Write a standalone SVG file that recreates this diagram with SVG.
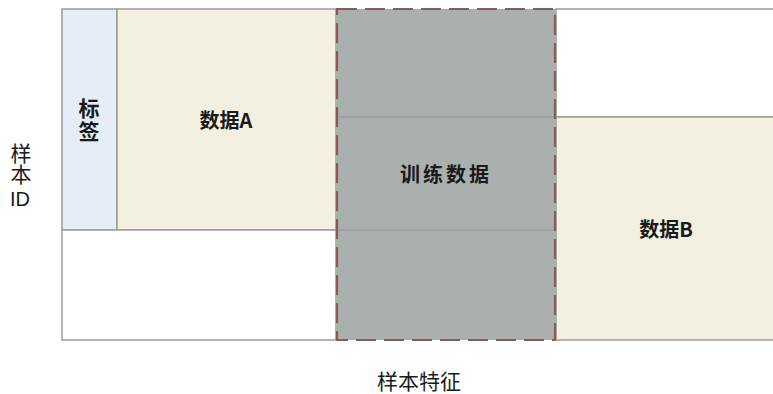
<svg xmlns="http://www.w3.org/2000/svg" width="773" height="394" viewBox="0 0 773 394">
<style>
.cell{stroke:#9a9c9c;stroke-width:1.5}
.blue{fill:#e5edf6}
.beige{fill:#f3f0e1}
.white{fill:#ffffff}
.gray{fill:#a9b0ae}
.lbl{font-family:"Noto Sans CJK SC","Noto Sans",sans-serif;font-weight:bold;font-size:20px;fill:#1a1a1a}
.axis{font-family:"Noto Sans CJK SC","Liberation Sans",sans-serif;font-size:21px;fill:#1a1a1a}
.vert{writing-mode:vertical-rl}
.dash{fill:none;stroke:#8a5a56;stroke-width:2.2;stroke-dasharray:20 8}
</style>
<rect width="773" height="394" fill="#ffffff"/>
<g id="label">
<rect class="cell blue" x="62" y="9" width="55" height="221"/>
<text class="lbl vert" x="89" y="98" style="font-size:21px" letter-spacing="2">标签</text>
</g>
<g id="dataA">
<rect class="cell beige" x="117" y="9" width="219" height="221"/>
<text class="lbl" x="226" y="128" text-anchor="middle">数据A</text>
</g>
<g id="emptyBL">
<rect class="cell white" x="62" y="230" width="274" height="110"/>
</g>
<g id="emptyTR">
<rect class="cell white" x="556" y="9" width="220" height="108"/>
</g>
<g id="dataB">
<rect class="cell beige" x="556" y="117" width="220" height="223"/>
<text class="lbl" x="666" y="237" text-anchor="middle">数据B</text>
</g>
<g id="training">
<rect class="gray" x="336" y="9" width="220" height="331"/>
<line x1="336" y1="117" x2="556" y2="117" stroke="#8f9694" stroke-width="1.2"/>
<line x1="336" y1="230" x2="556" y2="230" stroke="#8f9694" stroke-width="1.2"/>
<rect class="dash" x="337" y="9" width="218" height="331"/>
<text class="lbl" x="446" y="182" text-anchor="middle" letter-spacing="3">训练数据</text>
</g>
<g id="axes">
<text class="axis vert" x="21" y="143">样本</text>
<text x="20" y="206" text-anchor="middle" style="font-family:'Liberation Sans',sans-serif;font-size:20px;fill:#1a1a1a">ID</text>
<text class="axis" x="419" y="389" text-anchor="middle">样本特征</text>
</g>
</svg>
